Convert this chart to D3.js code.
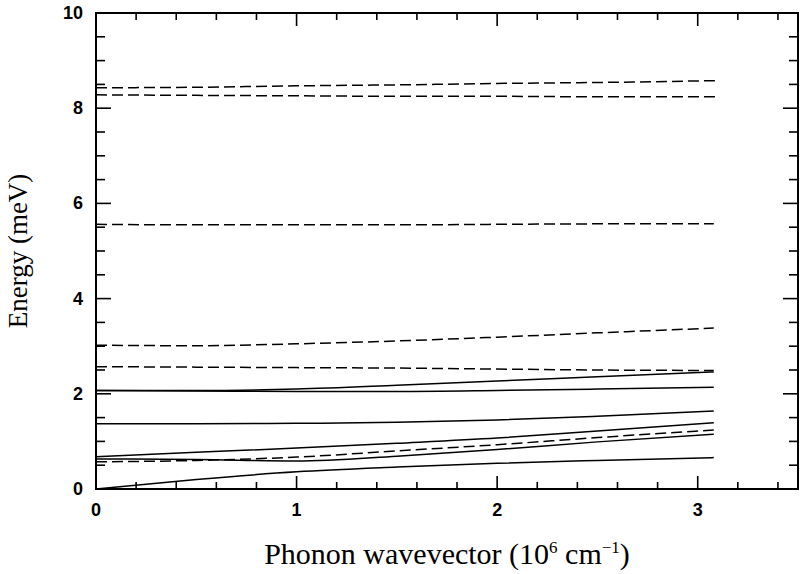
<!DOCTYPE html>
<html>
<head>
<meta charset="utf-8">
<script src="https://cdn.jsdelivr.net/npm/d3@7"></script>
<style>
  body { margin: 0; background: #fff; }
  .tick-label { font-family: "Liberation Sans", Arial, sans-serif; font-weight: bold; font-size: 18px; }
  .axis-title { font-family: "Liberation Serif", "Times New Roman", serif; }
</style>
</head>
<body>
<svg width="807" height="574"></svg>
<script>
// Wavevector grid (10^6 cm^-1)
const q = [0, 0.5, 1, 1.5, 2, 2.5, 3.08];
const qTop = [0, 0.5, 1, 1.5, 2, 2.5, 3.1];

// Energies (meV)
const dashTop1 = [8.43, 8.44, 8.47, 8.49, 8.52, 8.54, 8.58];
const dashTop2 = [8.28, 8.27, 8.26, 8.25, 8.25, 8.24, 8.24];
const dash556 = [5.56, 5.55, 5.55, 5.55, 5.56, 5.57, 5.57];
const dash300 = [3.02, 3.01, 3.05, 3.11, 3.19, 3.28, 3.38];
const dash256 = [2.57, 2.56, 2.55, 2.54, 2.52, 2.50, 2.49];
const solidA = [2.07, 2.07, 2.10, 2.18, 2.27, 2.36, 2.46];
const solidB = [2.07, 2.06, 2.05, 2.05, 2.07, 2.10, 2.14];
const solid137 = [1.37, 1.37, 1.38, 1.40, 1.45, 1.53, 1.64];
const solidC = [0.68, 0.77, 0.86, 0.96, 1.07, 1.22, 1.39];
const dashLow = [0.57, 0.60, 0.67, 0.80, 0.93, 1.08, 1.24];
const solidE = [0.63, 0.62, 0.59, 0.69, 0.83, 0.99, 1.15];
const solidF = [0.00, 0.20, 0.36, 0.46, 0.54, 0.60, 0.66];

const series = [
  {x: qTop, y: dashTop1, dashed: true},
  {x: qTop, y: dashTop2, dashed: true},
  {x: q, y: dash556, dashed: true},
  {x: q, y: dash300, dashed: true},
  {x: q, y: dash256, dashed: true},
  {x: q, y: solidA, dashed: false},
  {x: q, y: solidB, dashed: false},
  {x: q, y: solid137, dashed: false},
  {x: q, y: solidC, dashed: false},
  {x: q, y: dashLow, dashed: true},
  {x: q, y: solidE, dashed: false},
  {x: q, y: solidF, dashed: false},
];

const xMajor = [0, 1, 2, 3];
const yMajor = [0, 2, 4, 6, 8, 10];

const svg = d3.select('svg');
const margin = {top: 13, right: 9, bottom: 85, left: 96};
const width = 807 - margin.left - margin.right;
const height = 574 - margin.top - margin.bottom;
const g = svg.append('g').attr('transform', `translate(${margin.left},${margin.top})`);

const x = d3.scaleLinear().domain([0, 3.5]).range([0, width]);
const y = d3.scaleLinear().domain([0, 10]).range([height, 0]);

// minor ticks
const xMinor = d3.range(0, 3.5, 0.2).filter(v => Math.abs(v - Math.round(v)) > 1e-6);
const yMinor = d3.range(0, 10, 0.5).filter(v => v % 2 !== 0);

// ticks drawn inward on all four sides
function tickLines(vals, len, horizontal) {
  vals.forEach(v => {
    if (horizontal) {
      g.append('line').attr('x1', x(v)).attr('x2', x(v)).attr('y1', height).attr('y2', height - len);
      g.append('line').attr('x1', x(v)).attr('x2', x(v)).attr('y1', 0).attr('y2', len);
    } else {
      g.append('line').attr('y1', y(v)).attr('y2', y(v)).attr('x1', 0).attr('x2', len);
      g.append('line').attr('y1', y(v)).attr('y2', y(v)).attr('x1', width).attr('x2', width - len);
    }
  });
}

tickLines(xMinor, 7, true);
tickLines(xMajor, 13, true);
tickLines(yMinor, 9, false);
tickLines(yMajor, 15, false);
g.selectAll('line').attr('stroke', '#000').attr('stroke-width', 1.6);

// frame
g.append('rect')
  .attr('width', width).attr('height', height)
  .attr('fill', 'none').attr('stroke', '#000').attr('stroke-width', 2);

// tick labels
g.selectAll('.xl').data(xMajor).enter().append('text')
  .attr('class', 'tick-label')
  .attr('x', d => x(d)).attr('y', height + 27)
  .attr('text-anchor', 'middle')
  .text(d => d);

g.selectAll('.yl').data(yMajor).enter().append('text')
  .attr('class', 'tick-label')
  .attr('x', -13).attr('y', d => y(d) + 6)
  .attr('text-anchor', 'end')
  .text(d => d);

// curves
const line = d3.line()
  .x(d => x(d[0]))
  .y(d => y(d[1]))
  .curve(d3.curveMonotoneX);

g.selectAll('.mode').data(series).enter().append('path')
  .attr('class', 'mode')
  .attr('d', s => line(s.x.map((v, i) => [v, s.y[i]])))
  .attr('fill', 'none')
  .attr('stroke', '#000')
  .attr('stroke-width', 1.5)
  .attr('stroke-dasharray', s => s.dashed ? '11,5' : null);

// axis titles
svg.append('text')
  .attr('class', 'axis-title')
  .attr('font-size', 27)
  .attr('transform', 'translate(27,251) rotate(-90)')
  .attr('text-anchor', 'middle')
  .text('Energy (meV)');

const xt = svg.append('text')
  .attr('class', 'axis-title')
  .attr('font-size', 30)
  .attr('x', 447).attr('y', 564)
  .attr('text-anchor', 'middle');
xt.append('tspan').text('Phonon wavevector (10');
xt.append('tspan').attr('dy', -11).attr('font-size', 17).text('6');
xt.append('tspan').attr('dy', 11).text(' cm');
xt.append('tspan').attr('dy', -11).attr('font-size', 17).text('\u22121');
xt.append('tspan').attr('dy', 11).text(')');
</script>
</body>
</html>
